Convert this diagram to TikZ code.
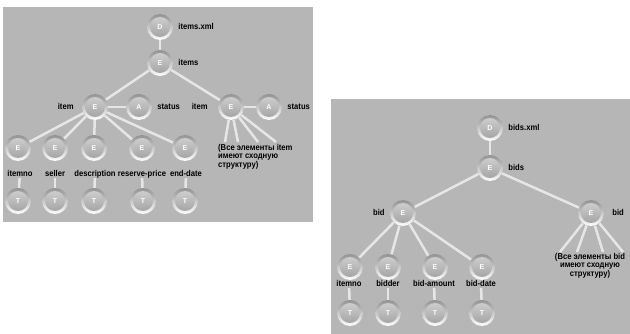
\documentclass[tikz,border=0pt]{standalone}
\usepackage{fontspec}
\setmainfont{Liberation Sans}
\newfontfamily\narrowfont[FakeStretch=0.9]{Liberation Sans}
\usetikzlibrary{positioning}
\definecolor{panel}{HTML}{B6B6B6}
\definecolor{wire}{HTML}{E6E6E6}

\begin{document}
\begin{tikzpicture}[x=1pt, y=-1pt, node distance=5pt]
  \tikzstyle{ball} = [circle, inner sep=0pt, minimum size=26pt, top color=gray!85, bottom color=white, text=white, font=\bfseries\fontsize{7}{7}\selectfont, path picture={\shade[top color=gray!35, bottom color=gray!75] (path picture bounding box.center) circle (10pt);}]
  \tikzstyle{tag} = [inner sep=0pt, text height=6.5pt, text depth=1.5pt, font=\narrowfont\bfseries\fontsize{8.5}{8.5}\selectfont]
  \tikzstyle{link} = [draw=wire, line width=2.5pt]

  \useasboundingbox (0,0) rectangle (630,334);
  \fill[panel] (3,7) rectangle (313,222);
  \fill[panel] (331,99) rectangle (630,334);

  % items.xml
  \node[ball] (doc1) at (160,27) {D};
  \node[ball] (items) at (160,63) {E};
  \node[ball] (item1) at (95,107) {E};
  \node[ball] (stat1) at (139,107) {A};
  \node[ball] (item2) at (231,107) {E};
  \node[ball] (stat2) at (269,107) {A};

  \node[tag, right=of doc1] (doc1name) {items.xml};
  \node[tag, right=of items] (itemsname) {items};
  \node[tag, left=8pt of item1] (item1name) {item};
  \node[tag, right=of stat1] (stat1name) {status};
  \node[tag, left=10pt of item2] (item2name) {item};
  \node[tag, right=of stat2] (stat2name) {status};

  \node[ball] (itemno1) at (18,148) {E};
  \node[ball] (seller) at (55,148) {E};
  \node[ball] (descr) at (94,148) {E};
  \node[ball] (price) at (142,148) {E};
  \node[ball] (enddate) at (185,148) {E};

  \node[tag] (itemno1name) at (20,174) {itemno};
  \node[tag] (sellername) at (55,174) {seller};
  \node[tag] (descrname) at (95,174) {description};
  \node[tag] (pricename) at (142,174) {reserve-price};
  \node[tag] (enddatename) at (186,174) {end-date};

  \node[ball] (itemno1txt) at (18,201) {T};
  \node[ball] (sellertxt) at (55,201) {T};
  \node[ball] (descrtxt) at (94,201) {T};
  \node[ball] (pricetxt) at (143,201) {T};
  \node[ball] (enddatetxt) at (185,201) {T};

  \node[tag, anchor=north west, align=left, text height=, text depth=] (note1) at (218,144) {(Все элементы item\\имеют сходную\\структуру)};
  \coordinate (n1a) at (225,142);
  \coordinate (n1b) at (238,142);
  \coordinate (n1c) at (258,142);
  \coordinate (n1d) at (276,142);

  \draw[link] (doc1) -- (items);
  \draw[link] (items) -- (item1);
  \draw[link] (items) -- (item2);
  \draw[link] (item1) -- (stat1);
  \draw[link] (item2) -- (stat2);

  \draw[link] (item1) -- (itemno1);
  \draw[link] (item1) -- (seller);
  \draw[link] (item1) -- (descr);
  \draw[link] (item1) -- (price);
  \draw[link] (item1) -- (enddate);

  \draw[link] (itemno1name) -- (itemno1txt);
  \draw[link] (sellername) -- (sellertxt);
  \draw[link] (descrname) -- (descrtxt);
  \draw[link] (pricename) -- (pricetxt);
  \draw[link] (enddatename) -- (enddatetxt);

  \draw[link] (item2) -- (n1a);
  \draw[link] (item2) -- (n1b);
  \draw[link] (item2) -- (n1c);
  \draw[link] (item2) -- (n1d);

  % bids.xml
  \node[ball] (doc2) at (490,128) {D};
  \node[ball] (bids) at (490,168) {E};
  \node[ball] (bid1) at (403,213) {E};
  \node[ball] (bid2) at (591,213) {E};

  \node[tag, right=of doc2] (doc2name) {bids.xml};
  \node[tag, right=of bids] (bidsname) {bids};
  \node[tag, left=of bid1] (bid1name) {bid};
  \node[tag, right=8pt of bid2] (bid2name) {bid};

  \node[ball] (itemno2) at (350,267) {E};
  \node[ball] (bidder) at (388,267) {E};
  \node[ball] (amount) at (435,267) {E};
  \node[ball] (biddate) at (482,267) {E};

  \node[tag] (itemno2name) at (349,284) {itemno};
  \node[tag] (biddername) at (388,284) {bidder};
  \node[tag] (amountname) at (434,284) {bid-amount};
  \node[tag] (biddatename) at (481,284) {bid-date};

  \node[ball] (itemno2txt) at (350,313) {T};
  \node[ball] (biddertxt) at (388,313) {T};
  \node[ball] (amounttxt) at (435,313) {T};
  \node[ball] (biddatetxt) at (482,313) {T};

  \node[tag, anchor=north, align=center, text height=, text depth=] (note2) at (590,253) {(Все элементы bid\\имеют сходную\\структуру)};
  \coordinate (n2a) at (560,252);
  \coordinate (n2b) at (577,252);
  \coordinate (n2c) at (603,252);
  \coordinate (n2d) at (623,252);

  \draw[link] (doc2) -- (bids);
  \draw[link] (bids) -- (bid1);
  \draw[link] (bids) -- (bid2);

  \draw[link] (bid1) -- (itemno2);
  \draw[link] (bid1) -- (bidder);
  \draw[link] (bid1) -- (amount);
  \draw[link] (bid1) -- (biddate);

  \draw[link] (itemno2name) -- (itemno2txt);
  \draw[link] (biddername) -- (biddertxt);
  \draw[link] (amountname) -- (amounttxt);
  \draw[link] (biddatename) -- (biddatetxt);

  \draw[link] (bid2) -- (n2a);
  \draw[link] (bid2) -- (n2b);
  \draw[link] (bid2) -- (n2c);
  \draw[link] (bid2) -- (n2d);
\end{tikzpicture}
\end{document}
